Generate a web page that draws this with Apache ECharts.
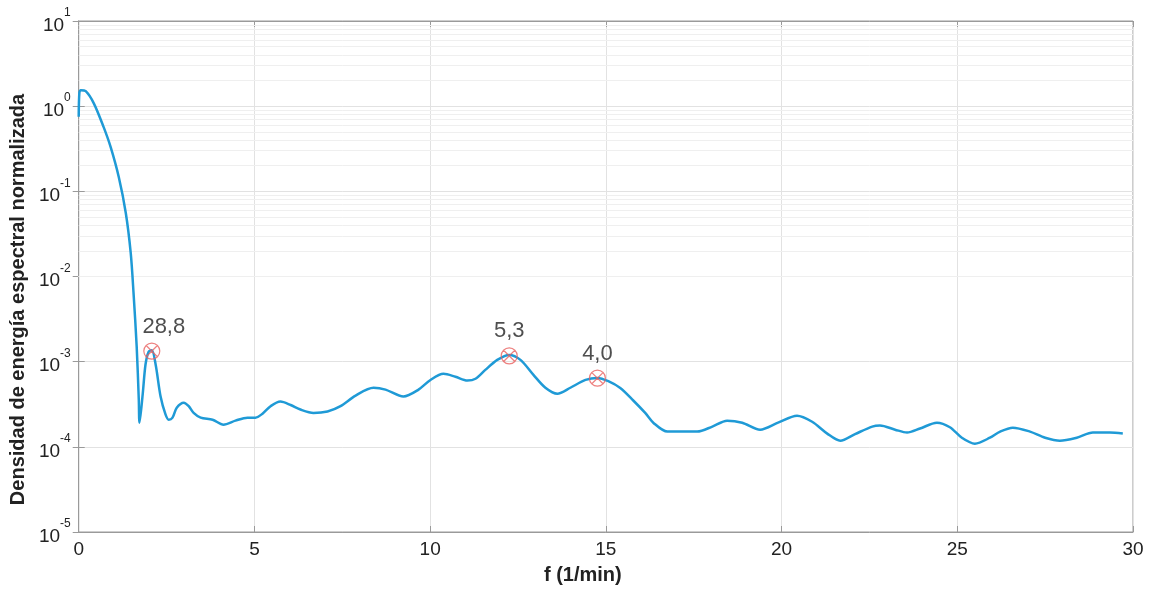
<!DOCTYPE html>
<html>
<head>
<meta charset="utf-8">
<script src="https://cdn.jsdelivr.net/npm/echarts@6/dist/echarts.min.js"></script>
<style>
  html, body { margin: 0; padding: 0; background: #fff; }
  #chart { width: 1152px; height: 590px; }
</style>
</head>
<body>
<div id="chart"></div>
<script>
// frecuencia (1/min)
const freq = [
    0, 0.02, 0.06, 0.2, 0.43, 0.71, 0.91, 1.14, 1.34, 1.48, 1.56, 1.65, 1.71, 1.73,
    1.82, 1.9, 1.99, 2.08, 2.19, 2.33, 2.47, 2.56, 2.67, 2.79, 2.99, 3.13, 3.27, 3.47,
    3.81, 4.12, 4.46, 4.8, 5.03, 5.23, 5.46, 5.74, 6.03, 6.31, 6.68, 7.08, 7.45, 7.88,
    8.39, 8.73, 9.24, 9.67, 10.01, 10.38, 10.72, 11.06, 11.29, 11.57, 11.91, 12.25,
    12.57, 12.94, 13.28, 13.62, 13.99, 14.42, 14.76, 15.07, 15.41, 15.78, 16.12, 16.35,
    16.75, 17.17, 17.6, 18.03, 18.45, 18.88, 19.39, 19.9, 20.44, 20.87, 21.3, 21.67,
    22.09, 22.58, 22.8, 23.23, 23.57, 23.94, 24.42, 24.79, 25.13, 25.5, 25.93, 26.22,
    26.58, 27.07, 27.5, 27.92, 28.4, 28.86, 29.34, 29.71
];
// densidad normalizada
const psd = [
    0.75, 1.45, 1.54, 1.5, 1.08, 0.567, 0.33, 0.147, 0.0557, 0.0189, 0.00643, 0.0015, 3.57e-4, 1.92e-4,
    4.1e-4, 9.2e-4, 1.31e-3, 1.36e-3, 9.2e-4, 3.9e-4, 2.4e-4, 2.08e-4, 2.2e-4, 2.88e-4, 3.3e-4, 3.0e-4, 2.5e-4, 2.2e-4,
    2.08e-4, 1.82e-4, 2.03e-4, 2.2e-4, 2.2e-4, 2.45e-4, 3.0e-4, 3.4e-4, 3.1e-4, 2.74e-4, 2.5e-4, 2.6e-4, 3.0e-4, 4.0e-4,
    4.94e-4, 4.7e-4, 3.9e-4, 4.7e-4, 6.1e-4, 7.2e-4, 6.65e-4, 6.0e-4, 6.3e-4, 8.0e-4, 1.05e-3, 1.2e-3,
    1.05e-3, 7.0e-4, 4.94e-4, 4.2e-4, 4.94e-4, 6.1e-4, 6.45e-4, 5.9e-4, 4.9e-4, 3.5e-4, 2.5e-4, 1.92e-4,
    1.51e-4, 1.51e-4, 1.51e-4, 1.73e-4, 2.03e-4, 1.92e-4, 1.59e-4, 1.92e-4, 2.32e-4, 1.97e-4, 1.43e-4, 1.18e-4,
    1.41e-4, 1.73e-4, 1.78e-4, 1.59e-4, 1.47e-4, 1.64e-4, 1.92e-4, 1.7e-4, 1.28e-4, 1.09e-4, 1.28e-4, 1.51e-4,
    1.68e-4, 1.51e-4, 1.28e-4, 1.18e-4, 1.28e-4, 1.47e-4, 1.47e-4, 1.43e-4
];
// picos marcados
const peakFreq = [2.08, 12.25, 14.76];
const peakVal = [1.33e-3, 1.17e-3, 6.4e-4];
const peakLabels = ['28,8', '5,3', '4,0'];

const xMin = 0, xMax = 30, xStep = 5;
const yMin = 1e-5, yMax = 10;
const decades = [-5, -4, -3, -2, -1, 0];

let chart = echarts.init(document.getElementById('chart'));

let lineData = freq.map(function (f, i) { return [f, psd[i]]; });
let peakData = peakFreq.map(function (f, i) {
    return {
        value: [f, peakVal[i]],
        label: { formatter: peakLabels[i], offset: i === 0 ? [12, 0] : [0, 0] }
    };
});

// lineas menores de la rejilla (2..9 x 10^k)
let minorLines = [];
decades.forEach(function (k) {
    for (let m = 2; m <= 9; m++) {
        minorLines.push({ yAxis: m * Math.pow(10, k) });
    }
});

const gray = '#9a9a9a';
const textColor = '#222';
const font = '"Liberation Sans", Arial, sans-serif';

let markerPath = 'path://M0,10A10,10,0,1,1,20,10A10,10,0,1,1,0,10Z M3,3L17,17 M17,3L3,17';

let option = {
    animation: false,
    backgroundColor: '#fff',
    grid: {
        left: 78, right: 19, top: 21, bottom: 57,
        show: true, borderColor: gray, borderWidth: 1
    },
    xAxis: [{
        type: 'value', min: xMin, max: xMax, interval: xStep,
        name: 'f (1/min)', nameLocation: 'middle', nameGap: 33,
        nameTextStyle: { fontFamily: font, fontWeight: 'bold', fontSize: 20, color: textColor, padding: [0, 46, 0, 0] },
        axisLine: { lineStyle: { color: gray } },
        axisTick: { inside: true, length: 6, lineStyle: { color: gray } },
        axisLabel: { fontFamily: font, fontSize: 19, color: textColor, margin: 8 },
        splitLine: { show: true, lineStyle: { color: '#e2e2e2' } }
    }, {
        type: 'value', min: xMin, max: xMax, interval: xStep, position: 'top',
        axisLine: { show: true, lineStyle: { color: gray } },
        axisTick: { inside: true, length: 6, lineStyle: { color: gray } },
        axisLabel: { show: false },
        splitLine: { show: false }
    }],
    yAxis: [{
        type: 'log', logBase: 10, min: yMin, max: yMax,
        name: 'Densidad de energía espectral normalizada', nameLocation: 'middle', nameGap: 46,
        nameTextStyle: { fontFamily: font, fontWeight: 'bold', fontSize: 20, color: textColor, padding: [0, 46, 0, 0] },
        axisLine: { show: true, lineStyle: { color: gray } },
        axisTick: { inside: true, length: 6, lineStyle: { color: gray } },
        axisLabel: {
            margin: 8,
            formatter: function (v) {
                let e = Math.round(Math.log10(v));
                return '{b|10}{e|' + e + '}';
            },
            rich: {
                b: { fontFamily: font, fontSize: 19, color: textColor, lineHeight: 28, verticalAlign: 'bottom' },
                e: { fontFamily: font, fontSize: 12, color: textColor, verticalAlign: 'top', lineHeight: 28 }
            }
        },
        splitLine: { show: true, lineStyle: { color: '#e2e2e2' } }
    }, {
        type: 'log', logBase: 10, min: yMin, max: yMax, position: 'right',
        axisLine: { show: true, lineStyle: { color: gray } },
        axisTick: { inside: true, length: 6, lineStyle: { color: gray } },
        axisLabel: { show: false },
        splitLine: { show: false }
    }],
    series: [{
        type: 'line',
        data: [[1, 1]],
        symbol: 'none',
        lineStyle: { opacity: 0 },
        silent: true,
        markLine: {
            silent: true,
            symbol: ['none', 'none'],
            label: { show: false },
            lineStyle: { color: '#efefef', type: 'solid', width: 1 },
            data: minorLines
        }
    }, {
        type: 'line',
        data: lineData,
        showSymbol: false,
        smooth: 0.3,
        lineStyle: { color: '#1f9ad6', width: 2.5 },
        z: 5
    }, {
        type: 'scatter',
        data: peakData,
        symbol: markerPath,
        symbolSize: 16,
        itemStyle: { color: 'rgba(255,255,255,0)', borderColor: '#e8605f', borderWidth: 1.2 },
        label: {
            show: true, position: 'top', distance: 5,
            fontFamily: font, fontSize: 22, color: textColor
        },
        z: 6
    }]
};

chart.setOption(option);
</script>
</body>
</html>
